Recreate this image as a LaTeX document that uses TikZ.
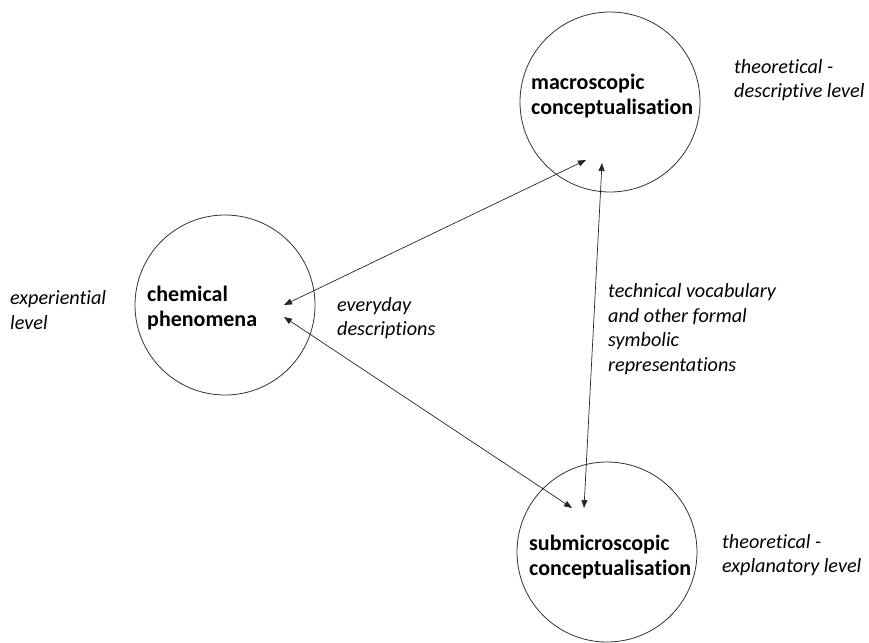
\documentclass[tikz,border=0pt]{standalone}
\usepackage{fontspec}
\setmainfont[Ligatures=NoCommon]{Carlito}
\usetikzlibrary{arrows.meta}
\begin{document}
\begin{tikzpicture}[x=1pt,y=-1pt,
  ring/.style={circle,draw=black!80,line width=0.8pt,minimum size=180pt,inner sep=0pt},
  concept/.style={anchor=west,align=left,inner sep=0pt,font=\fontsize{22}{25}\selectfont\bfseries},
  levellabel/.style={anchor=west,align=left,inner sep=0pt,font=\fontsize{20.2}{24.5}\selectfont\itshape},
  link/.style={{Triangle[length=8pt,width=6pt]}-{Triangle[length=8pt,width=6pt]},line width=0.7pt,black!85}]
  \useasboundingbox (0,0) rectangle (869,642);

  % the three levels
  \node[ring] (chem) at (225,305) {};
  \node[ring] (macro) at (610,102) {};
  \node[ring] (sub) at (607,552) {};

  \node[concept] (chemtext) at (147,308) {chemical\\phenomena};
  \node[concept] (macrotext) at (531,96) {macroscopic\\conceptualisation};
  \node[concept] (subtext) at (529,557) {submicroscopic\\conceptualisation};

  % level descriptions
  \node[levellabel] (exp) at (10,310) {experiential\\level};
  \node[levellabel] (desc) at (734,80) {theoretical -\\descriptive level};
  \node[levellabel] (expl) at (722,555) {theoretical -\\explanatory level};
  \node[levellabel] (everyday) at (337,318) {everyday\\descriptions};
  \node[levellabel] (technical) at (608,329) {technical vocabulary\\and other formal\\symbolic\\representations};

  % arrow end points inside the circles
  \coordinate (c1) at (284,305);
  \coordinate (c2) at (284,317);
  \coordinate (m1) at (586,160);
  \coordinate (m2) at (602,163);
  \coordinate (s1) at (572,508);
  \coordinate (s2) at (584,508);

  \draw[link] (c1) -- (m1);
  \draw[link] (m2) -- (s2);
  \draw[link] (c2) -- (s1);
\end{tikzpicture}
\end{document}
